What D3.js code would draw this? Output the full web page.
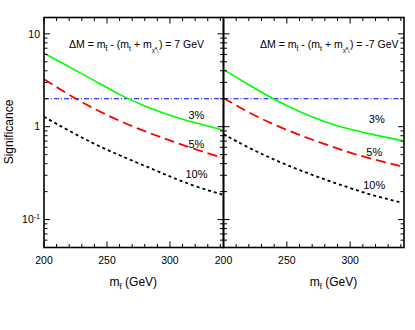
<!DOCTYPE html>
<html>
<head>
<meta charset="utf-8">
<script src="https://cdn.jsdelivr.net/npm/d3@7"></script>
<style>
body { margin: 0; background: #fff; }
svg text { font-family: "Liberation Sans", Arial, Helvetica, sans-serif; fill: #000; }
</style>
</head>
<body>
<svg id="chart" width="415" height="330"></svg>
<script>
// stop mass (GeV) and significance
const massLeft = [200, 220, 240, 260, 280, 300, 320, 342]
const sig3Left = [6.2, 4.4, 3.15, 2.2, 1.66, 1.32, 1.10, 0.92]
const sig5Left = [3.25, 2.19, 1.55, 1.15, 0.89, 0.71, 0.57, 0.46]
const sig10Left = [1.28, 0.90, 0.65, 0.49, 0.38, 0.29, 0.227, 0.185]

const massRight = [200, 220, 240, 260, 280, 300, 320, 341]
const sig3Right = [4.13, 2.82, 1.95, 1.45, 1.12, 0.93, 0.81, 0.71]
const sig5Right = [2.04, 1.41, 1.05, 0.81, 0.65, 0.52, 0.44, 0.374]
const sig10Right = [0.83, 0.59, 0.44, 0.34, 0.27, 0.218, 0.178, 0.152]

const threshold = 2
const labels = ['3%', '5%', '10%']
const labelMassLeft = 321
const labelSigLeft = [1.33, 0.65, 0.31]
const labelMassRight = [321, 319, 319]
const labelSigRight = [1.21, 0.53, 0.235]

const xMajor = [200, 250, 300]
const xMinor = d3.range(210, 350, 10).filter(d => d % 50 !== 0)
const yMajor = [0.1, 1, 10]
const yMinor = [0.05, 0.06, 0.07, 0.08, 0.09, 0.2, 0.3, 0.4, 0.5, 0.6, 0.7, 0.8, 0.9, 2, 3, 4, 5, 6, 7, 8, 9]

const svg = d3.select('#chart')

const yTop = 17.5, yBottom = 247.5
const y = d3.scaleLog().domain([0.05, 15]).range([yBottom, yTop])

const styles = [
    {color: '#00ff00', width: 1.6, dash: null},
    {color: '#ff0000', width: 1.8, dash: '10,5'},
    {color: '#000000', width: 1.8, dash: '3,3'}
]

const panels = [
    {x0: 44, x1: 223.5, mass: massLeft, series: [sig3Left, sig5Left, sig10Left], dm: '7',
     lx: labelMassLeft, ly: labelSigLeft, titleX: 69, axisLabelMass: 252},
    {x0: 223.5, x1: 404, mass: massRight, series: [sig3Right, sig5Right, sig10Right], dm: '-7',
     lx: labelMassRight, ly: labelSigRight, titleX: 260, axisLabelMass: 268}
]

panels.map((p, i) => {

    const x = d3.scaleLinear().domain([200, 342.5]).range([p.x0, p.x1])
    const g = svg.append('g')

    g.append('clipPath').attr('id', 'clip' + i)
    .append('rect')
    .attr('x', p.x0).attr('y', yTop)
    .attr('width', p.x1 - p.x0).attr('height', yBottom - yTop)

    const plot = g.append('g').attr('clip-path', `url(#clip${i})`)

    plot.append('line')
    .attr('x1', p.x0).attr('x2', p.x1)
    .attr('y1', y(threshold)).attr('y2', y(threshold))
    .attr('stroke', '#0000ff')
    .attr('stroke-width', 1)
    .attr('stroke-dasharray', '5,2,1,2')

    const line = d3.line()
    .x(d => x(d[0]))
    .y(d => y(d[1]))
    .curve(d3.curveBasis)

    p.series.map((s, k) => {
        plot.append('path')
        .datum(p.mass.map((m, j) => [m, s[j]]))
        .attr('d', line)
        .attr('fill', 'none')
        .attr('stroke', styles[k].color)
        .attr('stroke-width', styles[k].width)
        .attr('stroke-dasharray', styles[k].dash)
    })

    labels.map((t, k) => {
        const lm = Array.isArray(p.lx) ? p.lx[k] : p.lx
        g.append('text')
        .attr('x', x(lm))
        .attr('y', y(p.ly[k]))
        .attr('dy', '0.36em')
        .attr('text-anchor', 'middle')
        .attr('font-size', 11)
        .text(t)
    })

    // ticks, all pointing inward
    const ticks = g.append('g').attr('stroke', '#000').attr('stroke-width', 1)
    xMajor.concat(xMinor).map(m => {
        const len = xMajor.includes(m) ? 6 : 3.5
        ticks.append('line').attr('x1', x(m)).attr('x2', x(m)).attr('y1', yBottom).attr('y2', yBottom - len)
        ticks.append('line').attr('x1', x(m)).attr('x2', x(m)).attr('y1', yTop).attr('y2', yTop + len)
    })
    yMajor.concat(yMinor).map(v => {
        const len = yMajor.includes(v) ? 6 : 3.5
        ticks.append('line').attr('x1', p.x0).attr('x2', p.x0 + len).attr('y1', y(v)).attr('y2', y(v))
        ticks.append('line').attr('x1', p.x1).attr('x2', p.x1 - len).attr('y1', y(v)).attr('y2', y(v))
    })

    g.append('rect')
    .attr('x', p.x0).attr('y', yTop)
    .attr('width', p.x1 - p.x0).attr('height', yBottom - yTop)
    .attr('fill', 'none')
    .attr('stroke', '#000')
    .attr('stroke-width', 1.6)

    xMajor.map(m => {
        g.append('text')
        .attr('x', x(m)).attr('y', 264)
        .attr('text-anchor', 'middle')
        .attr('font-size', 10.5)
        .text(m)
    })

    // x axis title
    const xt = g.append('text')
    .attr('x', x(p.axisLabelMass)).attr('y', 286)
    .attr('font-size', 12)
    xt.append('tspan').text('m')
    xt.append('tspan').attr('font-size', 8).attr('dy', 3).text('t\u0303')
    xt.append('tspan').attr('dy', -3).text(' (GeV)')

    // panel title
    const tt = g.append('text')
    .attr('x', p.titleX).attr('y', 48)
    .attr('font-size', 10.5)
    tt.append('tspan').text('\u0394M = m')
    tt.append('tspan').attr('font-size', 7).attr('dy', 3).text('t\u0303')
    tt.append('tspan').attr('dy', -3).text(' - (m')
    tt.append('tspan').attr('font-size', 7).attr('dy', 3).text('t')
    tt.append('tspan').attr('dy', -3).text(' + m')
    tt.append('tspan').attr('font-size', 6).attr('dy', 4).text('\u03c7\u0303\u2070\u2081')
    tt.append('tspan').attr('dy', -4).text(`) = ${p.dm} GeV`)
})

// y tick labels on the left panel
yMajor.map(v => {
    const t = svg.append('text')
    .attr('x', 40).attr('y', y(v))
    .attr('dy', '0.36em')
    .attr('text-anchor', 'end')
    .attr('font-size', 10.5)
    if (v < 1) {
        t.append('tspan').text('10')
        t.append('tspan').attr('font-size', 7).attr('dy', -4).text('-1')
    } else {
        t.text(v)
    }
})

svg.append('text')
.attr('transform', 'translate(13,132) rotate(-90)')
.attr('text-anchor', 'middle')
.attr('font-size', 12)
.text('Significance')
</script>
</body>
</html>
